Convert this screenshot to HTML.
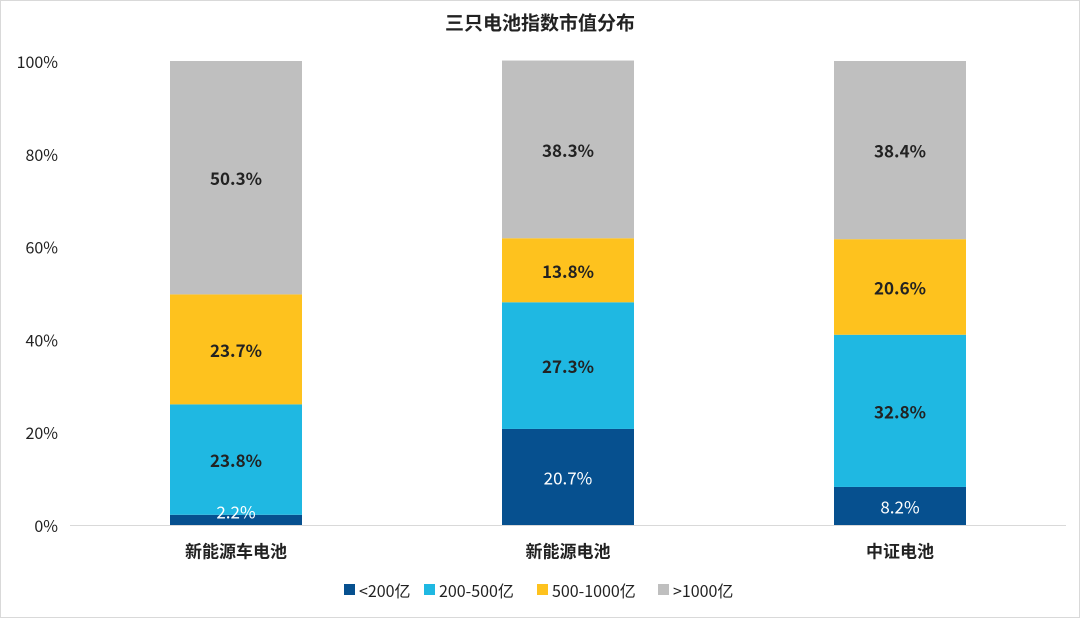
<!DOCTYPE html>
<html><head><meta charset="utf-8">
<style>
html,body{margin:0;padding:0;background:#fff;}
body{width:1080px;height:618px;overflow:hidden;font-family:"Noto Sans CJK SC","Liberation Sans",sans-serif;}
</style></head>
<body>
<svg id="chart" width="1080" height="618" xmlns="http://www.w3.org/2000/svg" font-family="Noto Sans CJK SC, Liberation Sans, sans-serif">
<rect x="0.5" y="0.5" width="1079" height="617" fill="#fff" stroke="#d9d9d9"/>
<text x="540" y="22" text-anchor="middle" dominant-baseline="central" font-size="19" font-weight="bold" fill="#222">三只电池指数市值分布</text>
<g id="plot"></g>
<g id="labels"></g>
<g id="legend"></g>
</svg>
<script>
const categories = ["新能源车电池","新能源电池","中证电池"];
const seriesNames = ["<200亿","200-500亿","500-1000亿",">1000亿"];
const seriesColors = ["#06508f","#1fb8e2","#fec21e","#bfbfbf"];
const s1 = [2.2, 20.7, 8.2];
const s2 = [23.8, 27.3, 32.8];
const s3 = [23.7, 13.8, 20.6];
const s4 = [50.3, 38.3, 38.4];
const yTicks = [0,20,40,60,80,100];
const series = [s1,s2,s3,s4];

const NS="http://www.w3.org/2000/svg";
const plotL=70, plotR=1066, plotT=61, plotB=525;
const band=(plotR-plotL)/categories.length, barW=132;
function y(v){return plotB-(v/100)*(plotB-plotT);}
function xc(i){return plotL+band*(i+0.5);}
function mk(tag,attrs,parent){const e=document.createElementNS(NS,tag);for(const k in attrs)e.setAttribute(k,attrs[k]);parent.appendChild(e);return e;}
const plot=document.getElementById('plot');
const labels=document.getElementById('labels');
yTicks.forEach(t=>{
  const tx=mk('text',{x:58,y:y(t),'text-anchor':'end','dominant-baseline':'central','font-size':16,fill:'#222'},plot);
  tx.textContent=t+'%';
  
  
});
categories.forEach((c,i)=>{
  let cum=0;
  series.forEach((s,j)=>{
    const v=s[i];
    const top=y(cum+v), bot=y(cum);
    const r=mk('rect',{x:xc(i)-barW/2,y:top,width:barW,height:bot-top,fill:seriesColors[j]},plot);
    
    
    let cy=(top+bot)/2;
    if(bot-top<20) cy=top-4;
    const lt=mk('text',{x:xc(i),y:cy,'text-anchor':'middle','dominant-baseline':'central','font-size':17,'font-weight':j===0?'normal':'bold',fill:j===0?'#fff':'#222'},labels);
    lt.textContent=v.toFixed(1)+'%';
    
    
    cum+=v;
  });
  const ct=mk('text',{x:xc(i),y:550,'text-anchor':'middle','dominant-baseline':'central','font-size':17,'font-weight':'bold',fill:'#222'},plot);
  ct.textContent=c;
  
  
});
const ax=mk('line',{x1:plotL,x2:plotR,y1:plotB+0.5,y2:plotB+0.5,stroke:'#d9d9d9','stroke-width':1},plot);


const legend=document.getElementById('legend');
const lx=[344,424,537,658];
seriesNames.forEach((n,j)=>{
  const g=mk('g',{},legend);
  
  
  mk('rect',{x:lx[j],y:584,width:11,height:11,fill:seriesColors[j]},g);
  const t=mk('text',{x:lx[j]+15,y:590,'dominant-baseline':'central','font-size':16,fill:'#222'},g);
  t.textContent=n;
});
</script>
</body></html>
